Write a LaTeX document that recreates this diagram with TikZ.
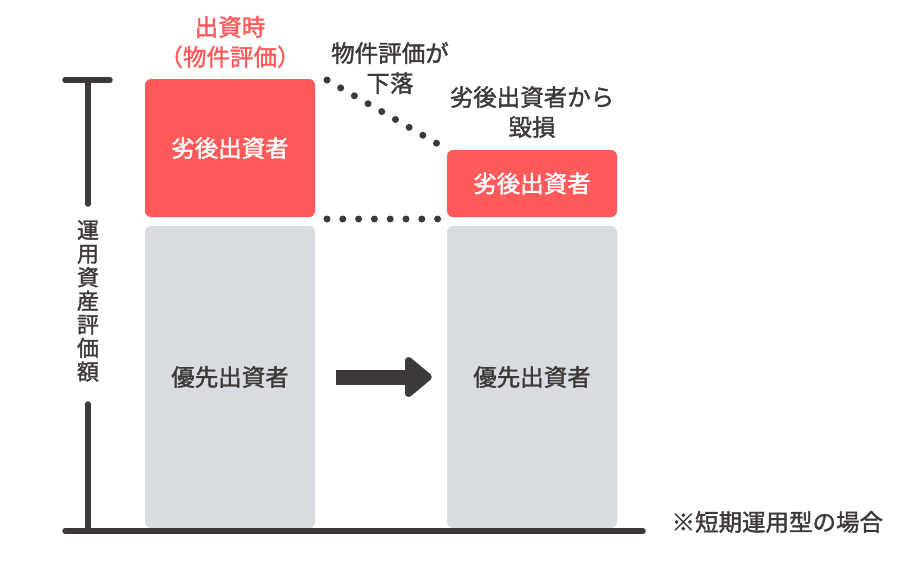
\documentclass[tikz,border=0pt]{standalone}
\usepackage{fontspec}
\setmainfont{Noto Sans CJK JP}[BoldFont={Noto Sans CJK JP}, BoldFeatures={FakeBold=1.5}]
\usepackage{xcolor}
\usetikzlibrary{arrows.meta}

\definecolor{sonred}{HTML}{FF5A5A}
\definecolor{sengray}{HTML}{D8DBDF}
\definecolor{inkdark}{HTML}{3E3939}

\begin{document}
\begin{tikzpicture}[x=1pt, y=-1pt,
    every node/.style = {font=\fontsize{23.5}{30}\selectfont\bfseries, text=inkdark},
    redbox/.style     = {fill=sonred, rounded corners=6pt, minimum width=170pt,
                         inner sep=0pt, text=white},
    graybox/.style    = {fill=sengray, rounded corners=6pt, minimum width=170pt,
                         minimum height=302pt, inner sep=0pt},
    axisline/.style   = {line width=5.5pt, inkdark, line cap=round},
    dotline/.style    = {line width=7pt, inkdark, line cap=round,
                         dash pattern=on 0pt off 15.8pt}]
  \useasboundingbox (0,0) rectangle (913,566);

% part 出資時
\node[graybox]                        (grayA) at (230,377) {優先出資者};
\node[redbox, minimum height=138pt]   (redA)  at (230,148) {劣後出資者};
\node[align=center, text=sonred]      (titleA) at (230,42) {出資時\\（物件評価）};

% part 下落後
\node[graybox]                        (grayB) at (532,377) {優先出資者};
\node[redbox, minimum height=67pt]    (redB)  at (532,183.5) {劣後出資者};
\node[align=center]                   (lossB) at (532,112) {劣後出資者から\\毀損};

% part 下落
\node[align=center]                   (fall)  at (390,68) {物件評価が\\下落};
\coordinate (dtopA) at (327,80);
\coordinate (dtopB) at (438,144);
\coordinate (dbotA) at (327,219);
\coordinate (dbotB) at (438,219);
\draw[dotline] (dtopA) -- (dtopB);
\draw[dotline] (dbotA) -- (dbotB);

% arrow
\draw[line width=15pt, inkdark, -{Triangle[length=29pt, width=46pt, round]},
      shorten <=21pt, shorten >=15pt] (grayA.east) -- (grayB.west);

% axis
\node[align=center, font=\fontsize{22}{23.6}\selectfont\bfseries]
      (axlabel) at (88,301) {運\\用\\資\\産\\評\\価\\額};
\coordinate (axtop)  at (88,80);
\coordinate (axmidA) at (88,204);
\coordinate (axmidB) at (88,404);
\coordinate (axbot)  at (88,531);
\coordinate (barL)   at (65,80);
\coordinate (barR)   at (110,80);
\coordinate (baseL)  at (65,531);
\coordinate (baseR)  at (643,531);
\draw[axisline] (barL) -- (barR);
\draw[axisline] (axtop) -- (axmidA);
\draw[axisline] (axmidB) -- (axbot);
\draw[axisline] (baseL) -- (baseR);

% note
\node[anchor=west] (note) at (668,522) {※短期運用型の場合};

\end{tikzpicture}
\end{document}
